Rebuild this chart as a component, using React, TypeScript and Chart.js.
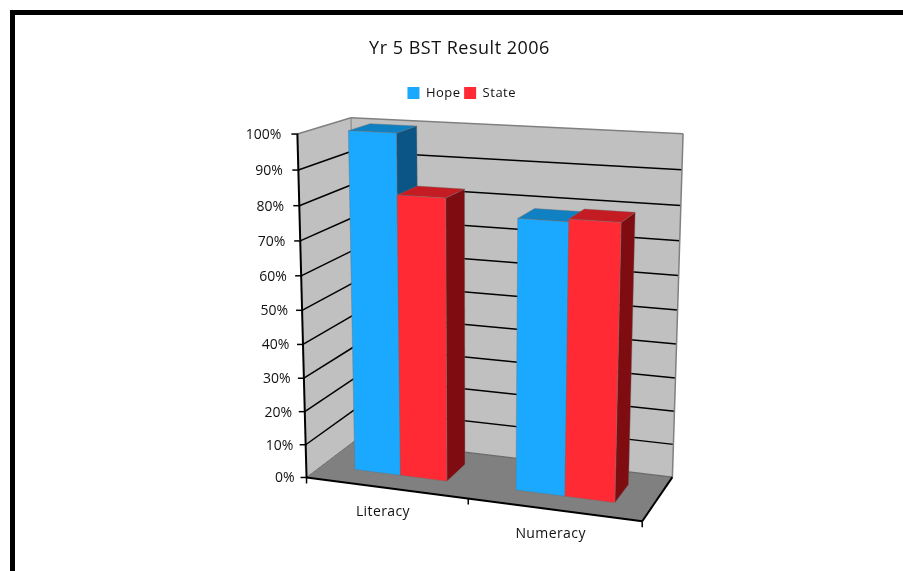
import React, { useEffect, useRef } from "react";
import { Chart, registerables } from "chart.js";

Chart.register(...registerables);

const categories = ["Literacy", "Numeracy"];
const hopeValues = [100, 78.4];
const stateValues = [82.7, 79.2];
const seriesNames = ["Hope", "State"];
const titleText = "Yr 5 BST Result 2006";

const FONT = "'Open Sans', sans-serif";
const DEPTH_FRONT = 0.3;
const DEPTH_BACK = 0.72;

// Calibration of the oblique view: (u, v, w) in the plot box -> canvas pixels.
const VIEW: [number, number, number, number, number][] = [
  [0, 0, 0, 307.7, 476.7],
  [1, 0, 0, 642, 522],
  [0.5, 0, 0, 468, 499],
  [0, 1, 0, 296.7, 134],
  [0, 0.5, 0, 302, 310],
  [0, 0, 1, 356, 440],
  [1, 0, 1, 672.7, 476],
  [0, 1, 1, 351.7, 117.7],
  [1, 1, 1, 683, 134],
  [1, 0.5, 1, 677.7, 310],
];

function solveView(): number[] {
  const n = 11;
  const A: number[][] = Array.from({ length: n }, () => new Array(n + 1).fill(0));
  const add = (row: number[], rhs: number) => {
    for (let i = 0; i < n; i++) {
      for (let j = 0; j < n; j++) A[i][j] += row[i] * row[j];
      A[i][n] += row[i] * rhs;
    }
  };
  for (const [u, v, w, x, y] of VIEW) {
    add([u, v, w, 1, 0, 0, 0, 0, -x * u, -x * v, -x * w], x);
    add([0, 0, 0, 0, u, v, w, 1, -y * u, -y * v, -y * w], y);
  }
  for (let c = 0; c < n; c++) {
    let p = c;
    for (let r = c + 1; r < n; r++) if (Math.abs(A[r][c]) > Math.abs(A[p][c])) p = r;
    [A[c], A[p]] = [A[p], A[c]];
    for (let r = 0; r < n; r++) {
      if (r === c) continue;
      const f = A[r][c] / A[c][c];
      for (let k = c; k <= n; k++) A[r][k] -= f * A[c][k];
    }
  }
  return A.map((row, i) => row[n] / row[i]);
}

const M = solveView();
const project = (u: number, v: number, w: number): [number, number] => {
  const d = M[8] * u + M[9] * v + M[10] * w + 1;
  return [
    (M[0] * u + M[1] * v + M[2] * w + M[3]) / d,
    (M[4] * u + M[5] * v + M[6] * w + M[7]) / d,
  ];
};

const poly = (ctx: CanvasRenderingContext2D, pts: [number, number][], fill: string, edge?: string) => {
  ctx.beginPath();
  pts.forEach((p, i) => (i ? ctx.lineTo(p[0], p[1]) : ctx.moveTo(p[0], p[1])));
  ctx.closePath();
  ctx.fillStyle = fill;
  ctx.fill();
  if (edge) {
    ctx.strokeStyle = edge;
    ctx.lineWidth = 0.75;
    ctx.stroke();
  }
};
const seg = (ctx: CanvasRenderingContext2D, a: [number, number], b: [number, number], color: string, width: number) => {
  ctx.beginPath();
  ctx.moveTo(a[0], a[1]);
  ctx.lineTo(b[0], b[1]);
  ctx.strokeStyle = color;
  ctx.lineWidth = width;
  ctx.stroke();
};

const SHADES = [
  { front: "#1aa9ff", top: "#0f80c2", side: "#0a5585" },
  { front: "#ff2a33", top: "#c41c22", side: "#7f0c10" },
];

const view3d = {
  id: "view3d",
  beforeDraw(chart: any) {
    (chart.ctx as any).letterSpacing = "0.5px";
  },
  beforeDatasetsDraw(chart: any) {
    const ctx: CanvasRenderingContext2D = chart.ctx;
    (ctx as any).letterSpacing = "0px";
    const { x: xs, y: ys } = chart.scales;
    const area = chart.chartArea;
    const U = (px: number) => (px - area.left) / area.width;
    const V = (px: number) => (area.bottom - px) / area.height;
    ctx.save();
    ctx.lineCap = "butt";

    poly(ctx, [project(0, 0, 0), project(1, 0, 0), project(1, 0, 1), project(0, 0, 1)], "#808080");
    poly(ctx, [project(0, 0, 1), project(1, 0, 1), project(1, 1, 1), project(0, 1, 1)], "#c0c0c0");
    poly(ctx, [project(0, 0, 0), project(0, 0, 1), project(0, 1, 1), project(0, 1, 0)], "#c0c0c0");

    for (const t of ys.ticks) {
      const v = V(ys.getPixelForValue(t.value));
      if (t.value > 0 && t.value < 100) {
        seg(ctx, project(0, v, 0), project(0, v, 1), "#000", 1.5);
        seg(ctx, project(0, v, 1), project(1, v, 1), "#000", 1.5);
      }
    }
    seg(ctx, project(0, 1, 0), project(0, 1, 1), "#808080", 1.5);
    seg(ctx, project(0, 1, 1), project(1, 1, 1), "#808080", 1.5);
    seg(ctx, project(1, 1, 1), project(1, 0, 1), "#808080", 1.5);
    seg(ctx, project(0, 1, 1), project(0, 0, 1), "#808080", 1);
    seg(ctx, project(0, 0, 0), project(0, 0, 1), "#6a6a6a", 1);
    seg(ctx, project(0, 0, 1), project(1, 0, 1), "#6a6a6a", 1.2);

    // Bars, taken from the elements laid out by the bar controller.
    const bars: { x: number; ds: number; el: any }[] = [];
    chart.data.datasets.forEach((_: any, ds: number) => {
      chart.getDatasetMeta(ds).data.forEach((el: any) => bars.push({ x: el.x, ds, el }));
    });
    bars.sort((a, b) => a.x - b.x);
    for (const { ds, el } of bars) {
      const u0 = U(el.x - el.width / 2);
      const u1 = U(el.x + el.width / 2);
      const top = V(el.y);
      const bot = V(el.base);
      const s = SHADES[ds];
      const edge = "rgba(110,110,110,0.55)";
      poly(ctx, [project(u1, bot, DEPTH_FRONT), project(u1, bot, DEPTH_BACK), project(u1, top, DEPTH_BACK), project(u1, top, DEPTH_FRONT)], s.side, edge);
      poly(ctx, [project(u0, top, DEPTH_FRONT), project(u1, top, DEPTH_FRONT), project(u1, top, DEPTH_BACK), project(u0, top, DEPTH_BACK)], s.top, edge);
      poly(ctx, [project(u0, bot, DEPTH_FRONT), project(u1, bot, DEPTH_FRONT), project(u1, top, DEPTH_FRONT), project(u0, top, DEPTH_FRONT)], s.front, edge);
    }

    // Axes, ticks and their labels along the near edges of the box.
    seg(ctx, project(0, 0, 0), project(0, 1, 0), "#000", 2);
    seg(ctx, project(0, 0, 0), project(1, 0, 0), "#000", 2);
    seg(ctx, project(1, 0, 0), project(1, 0, 1), "#000", 2);

    ctx.font = `14px ${FONT}`;
    ctx.textAlign = "right";
    ctx.textBaseline = "middle";
    for (const t of ys.ticks) {
      const v = V(ys.getPixelForValue(t.value));
      const p = project(0, v, 0);
      seg(ctx, [p[0] - 6, p[1]], [p[0] + 1, p[1]], "#000", 1.5);
      ctx.fillStyle = "#111";
      ctx.fillText(t.label as string, p[0] - 12 - 4 * v, p[1] + 1);
    }
    ctx.textAlign = "center";
    const n = xs.ticks.length;
    for (let i = 0; i <= n; i++) {
      const p = project(i / n, 0, 0);
      seg(ctx, p, [p[0], p[1] + 6], "#000", 1.5);
    }
    (ctx as any).letterSpacing = "0.4px";
    xs.ticks.forEach((_: any, i: number) => {
      const p = project(U(xs.getPixelForTick(i)), 0, 0);
      ctx.fillStyle = "#111";
      ctx.fillText(xs.getLabelForValue(i), p[0] - 3, p[1] + 24);
    });
    (ctx as any).letterSpacing = "0px";
    ctx.restore();
    return false;
  },
};

export default function App() {
  const ref = useRef<HTMLCanvasElement>(null);
  useEffect(() => {
    const chart = new Chart(ref.current!, {
      type: "bar",
      data: {
        labels: categories,
        datasets: [
          { label: seriesNames[0], data: hopeValues, backgroundColor: SHADES[0].front, borderWidth: 0 },
          { label: seriesNames[1], data: stateValues, backgroundColor: SHADES[1].front, borderWidth: 0 },
        ],
      },
      options: {
        responsive: false,
        animation: false,
        layout: { padding: { left: 16, top: 38.5 } },
        datasets: { bar: { categoryPercentage: 0.58, barPercentage: 1 } },
        scales: {
          x: { display: false },
          y: {
            display: false,
            min: 0,
            max: 100,
            ticks: { stepSize: 10, callback: (v: any) => `${v}%` },
          },
        },
        plugins: {
          tooltip: { enabled: false },
          title: {
            display: true,
            text: titleText,
            color: "#111",
            font: { family: FONT, size: 18, weight: "normal" },
            padding: { top: 0, bottom: 23 },
          },
          legend: {
            display: true,
            position: "top",
            labels: {
              boxWidth: 12,
              boxHeight: 12,
              padding: 3.5,
              color: "#111",
              font: { family: FONT, size: 13 },
            },
          },
        },
      },
      plugins: [view3d],
    } as any);
    return () => chart.destroy();
  }, []);
  return (
    <div style={{ position: "fixed", left: 0, top: 0, width: 903, height: 571, overflow: "hidden", background: "#fff" }}>
      <div
        style={{
          position: "absolute",
          left: 10,
          top: 10,
          width: 893,
          height: 561,
          boxSizing: "border-box",
          borderLeft: "5.5px solid #000",
          borderTop: "5.5px solid #000",
        }}
      />
      <canvas ref={ref} width={903} height={571} style={{ position: "absolute", left: 0, top: 0 }} />
    </div>
  );
}
